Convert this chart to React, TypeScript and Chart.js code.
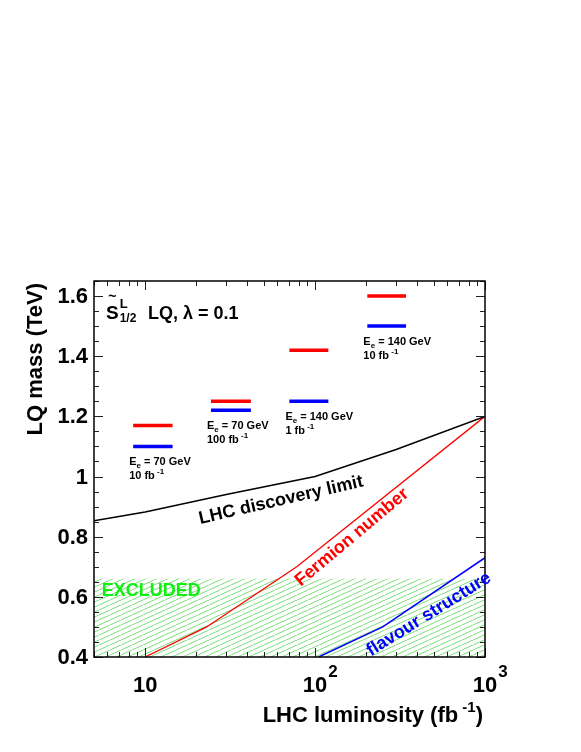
import React, { useEffect, useRef } from 'react';
import { Chart, registerables } from 'chart.js';

Chart.register(...registerables);

// ---------- data ----------
const lhcLumi = [5, 10, 30, 100, 300, 1000];
const lhcMass = [0.853, 0.882, 0.94, 1.0, 1.09, 1.2];

const fermionLumi = [10, 23, 78, 1000];
const fermionMass = [0.4, 0.5, 0.7, 1.2];

const flavourLumi = [105, 250, 1000];
const flavourMass = [0.4, 0.5, 0.73];

const excludedLumi = [5, 1000];
const excludedMass = [0.66, 0.66];

const barLumiLow = [8.5, 24.4, 70.6, 203];
const barLumiHigh = [14.5, 41.9, 119.7, 343];
const redMass = [1.17, 1.25, 1.42, 1.6];
const blueMass = [1.1, 1.22, 1.25, 1.5];
const beamEnergy = ['70', '70', '140', '140'];
const beamLumi = ['10', '100', '1', '10'];

const yTickValues = [0.4, 0.6, 0.8, 1.0, 1.2, 1.4, 1.6];
const yTickLabels = ['0.4', '0.6', '0.8', '1', '1.2', '1.4', '1.6'];
const xTickValues = [10, 100, 1000];
const xTickBase = ['10', '10', '10'];
const xTickExp = ['', '2', '3'];

const F = '"Liberation Sans", Arial, Helvetica, sans-serif';

type Part = [string, number, number];

function rich(ctx: CanvasRenderingContext2D, x: number, y: number, parts: Part[], align = 'left') {
  let w = 0;
  for (const p of parts) {
    ctx.font = `bold ${p[1]}px ${F}`;
    w += ctx.measureText(p[0]).width;
  }
  let cx = align === 'right' ? x - w : align === 'center' ? x - w / 2 : x;
  ctx.textAlign = 'left';
  ctx.textBaseline = 'alphabetic';
  for (const p of parts) {
    ctx.font = `bold ${p[1]}px ${F}`;
    ctx.fillText(p[0], cx, y + p[2]);
    cx += ctx.measureText(p[0]).width;
  }
}

function rotatedText(ctx: CanvasRenderingContext2D, text: string, x: number, y: number, deg: number, size: number, color: string) {
  ctx.save();
  ctx.translate(x, y);
  ctx.rotate((deg * Math.PI) / 180);
  ctx.fillStyle = color;
  ctx.font = `bold ${size}px ${F}`;
  ctx.textAlign = 'center';
  ctx.textBaseline = 'alphabetic';
  ctx.fillText(text, 0, 0);
  ctx.restore();
}

const annotPlugin = {
  id: 'annot',
  afterDatasetsDraw(chart: any) {
    const ctx: CanvasRenderingContext2D = chart.ctx;
    const a = chart.chartArea;
    const xs = chart.scales.x;
    const ys = chart.scales.y;
    const px = (v: number) => xs.getPixelForValue(v);
    const py = (v: number) => ys.getPixelForValue(v);
    ctx.save();

    // ticks
    ctx.strokeStyle = '#222';
    ctx.lineWidth = 1;
    ctx.beginPath();
    for (let d = 1; d <= 1000; d *= 10) {
      for (let m = 1; m <= 9; m++) {
        const v = d * m;
        if (v < 5 || v > 1000) continue;
        const major = m === 1;
        const len = major ? 9 : 5;
        const X = Math.round(px(v)) + 0.5;
        ctx.moveTo(X, a.bottom);
        ctx.lineTo(X, a.bottom - len);
        ctx.moveTo(X, a.top);
        ctx.lineTo(X, a.top + len);
      }
    }
    for (let i = 0; i <= 25; i++) {
      const v = 0.4 + i * 0.05;
      if (v > 1.651) continue;
      const major = i % 4 === 0;
      const len = major ? 9 : 5;
      const Y = Math.round(py(v)) + 0.5;
      ctx.moveTo(a.left, Y);
      ctx.lineTo(a.left + len, Y);
      ctx.moveTo(a.right, Y);
      ctx.lineTo(a.right - len, Y);
    }
    ctx.stroke();

    // frame
    ctx.strokeStyle = '#000';
    ctx.lineWidth = 1.5;
    ctx.strokeRect(a.left, a.top, a.right - a.left, a.bottom - a.top);

    // y tick labels
    ctx.fillStyle = '#000';
    ctx.font = `bold 22px ${F}`;
    ctx.textAlign = 'right';
    ctx.textBaseline = 'middle';
    yTickValues.forEach((v, i) => {
      ctx.fillText(yTickLabels[i], a.left - 6, py(v) + 1);
    });

    // x tick labels
    xTickValues.forEach((v, i) => {
      const X = px(v);
      ctx.font = `bold 22px ${F}`;
      const w = ctx.measureText(xTickBase[i]).width;
      ctx.textAlign = 'center';
      ctx.textBaseline = 'alphabetic';
      ctx.fillText(xTickBase[i], X, a.bottom + 35);
      if (xTickExp[i]) {
        ctx.font = `bold 17px ${F}`;
        ctx.textAlign = 'left';
        ctx.fillText(xTickExp[i], X + w / 2 + 1, a.bottom + 20);
      }
    });

    // axis titles
    ctx.fillStyle = '#000';
    rich(ctx, a.right - 2, a.bottom + 65, [
      ['LHC luminosity (fb', 22, 0],
      [' -1', 15, -10],
      [')', 22, 0],
    ], 'right');

    ctx.save();
    ctx.translate(42, a.top + 2);
    ctx.rotate(-Math.PI / 2);
    rich(ctx, 0, 0, [['LQ mass (TeV)', 22, 0]], 'right');
    ctx.restore();

    // title block
    ctx.fillStyle = '#000';
    ctx.font = `bold 19px ${F}`;
    ctx.textAlign = 'left';
    ctx.textBaseline = 'alphabetic';
    ctx.fillText('S', a.left + 12, a.top + 38);
    const sW = ctx.measureText('S').width;
    ctx.font = `bold 14px ${F}`;
    ctx.textAlign = 'center';
    ctx.fillText('~', a.left + 12 + sW / 2, a.top + 20);
    ctx.textAlign = 'left';
    ctx.font = `bold 13px ${F}`;
    ctx.fillText('L', a.left + 13 + sW, a.top + 27);
    ctx.font = `bold 12px ${F}`;
    ctx.fillText('1/2', a.left + 13 + sW, a.top + 41);
    ctx.font = `bold 18px ${F}`;
    ctx.fillText('LQ, λ = 0.1', a.left + 54, a.top + 38);

    // bar labels
    ctx.fillStyle = '#000';
    for (let i = 0; i < barLumiLow.length; i++) {
      const X = px(barLumiLow[i]) - 4;
      const Y = py(blueMass[i]) + 19;
      rich(ctx, X, Y, [
        ['E', 11, 0],
        ['e', 8, 3],
        [' = ' + beamEnergy[i] + ' GeV', 11, 0],
      ]);
      rich(ctx, X, Y + 14, [
        [beamLumi[i] + ' fb', 11, 0],
        [' -1', 8, -5],
      ]);
    }

    // curve labels
    rotatedText(ctx, 'LHC discovery limit', px(64), py(0.905), -13, 18, '#000');
    rotatedText(ctx, 'Fermion number', px(172), py(0.785), -40, 18, '#ff0000');
    rotatedText(ctx, 'flavour structure', px(485), py(0.528), -32, 18, '#0000ff');

    ctx.fillStyle = '#11ee11';
    ctx.font = `bold 18px ${F}`;
    ctx.textAlign = 'left';
    ctx.textBaseline = 'middle';
    ctx.fillText('EXCLUDED', px(5.56), py(0.618));

    ctx.restore();
  },
};

function makeHatch(ctx: CanvasRenderingContext2D) {
  const c = document.createElement('canvas');
  const W = 11;
  const H = 5;
  c.width = W;
  c.height = H;
  const g = c.getContext('2d') as CanvasRenderingContext2D;
  g.strokeStyle = 'rgba(30,200,30,0.6)';
  g.lineWidth = 1;
  g.beginPath();
  for (const dx of [-W, 0, W]) {
    g.moveTo(dx, H);
    g.lineTo(dx + W, 0);
  }
  g.stroke();
  return ctx.createPattern(c, 'repeat');
}

const pts = (xs: number[], ys: number[]) => xs.map((v, i) => ({ x: v, y: ys[i] }));

export default function App() {
  const ref = useRef<HTMLCanvasElement>(null);

  useEffect(() => {
    const canvas = ref.current;
    if (!canvas) return;
    const ctx = canvas.getContext('2d') as CanvasRenderingContext2D;
    const hatch = makeHatch(ctx);

    const base = { pointRadius: 0, tension: 0, fill: false, showLine: true };
    const datasets: any[] = [
      { ...base, label: 'LHC discovery limit', data: pts(lhcLumi, lhcMass), borderColor: '#000000', borderWidth: 1.5 },
      { ...base, label: 'Fermion number', data: pts(fermionLumi, fermionMass), borderColor: '#ff0000', borderWidth: 1.3 },
      { ...base, label: 'flavour structure', data: pts(flavourLumi, flavourMass), borderColor: '#0000ff', borderWidth: 1.5 },
    ];
    for (let i = 0; i < barLumiLow.length; i++) {
      datasets.push({
        ...base,
        label: 'red' + i,
        data: pts([barLumiLow[i], barLumiHigh[i]], [redMass[i], redMass[i]]),
        borderColor: '#ff0000',
        borderWidth: 3.5,
        borderCapStyle: 'butt',
      });
      datasets.push({
        ...base,
        label: 'blue' + i,
        data: pts([barLumiLow[i], barLumiHigh[i]], [blueMass[i], blueMass[i]]),
        borderColor: '#0000ff',
        borderWidth: 3.5,
        borderCapStyle: 'butt',
      });
    }
    datasets.push({
      ...base,
      label: 'EXCLUDED',
      data: pts(excludedLumi, excludedMass),
      borderWidth: 0,
      borderColor: 'rgba(0,0,0,0)',
      backgroundColor: hatch,
      fill: 'start',
      order: 10,
    });

    const chart = new Chart(ctx, {
      type: 'line',
      data: { datasets },
      options: {
        responsive: false,
        animation: false,
        devicePixelRatio: 1,
        events: [],
        layout: { padding: { left: 94, right: 96, top: 281, bottom: 95 } },
        plugins: { legend: { display: false }, tooltip: { enabled: false } },
        scales: {
          x: { type: 'logarithmic', min: 5, max: 1000, display: false },
          y: { type: 'linear', min: 0.4, max: 1.65, display: false },
        },
      },
      plugins: [annotPlugin],
    } as any);

    return () => chart.destroy();
  }, []);

  return (
    <div style={{ position: 'fixed', left: 0, top: 0, width: 581, height: 752, background: '#fff' }}>
      <canvas ref={ref} width={581} height={752} style={{ display: 'block', width: 581, height: 752 }} />
    </div>
  );
}
